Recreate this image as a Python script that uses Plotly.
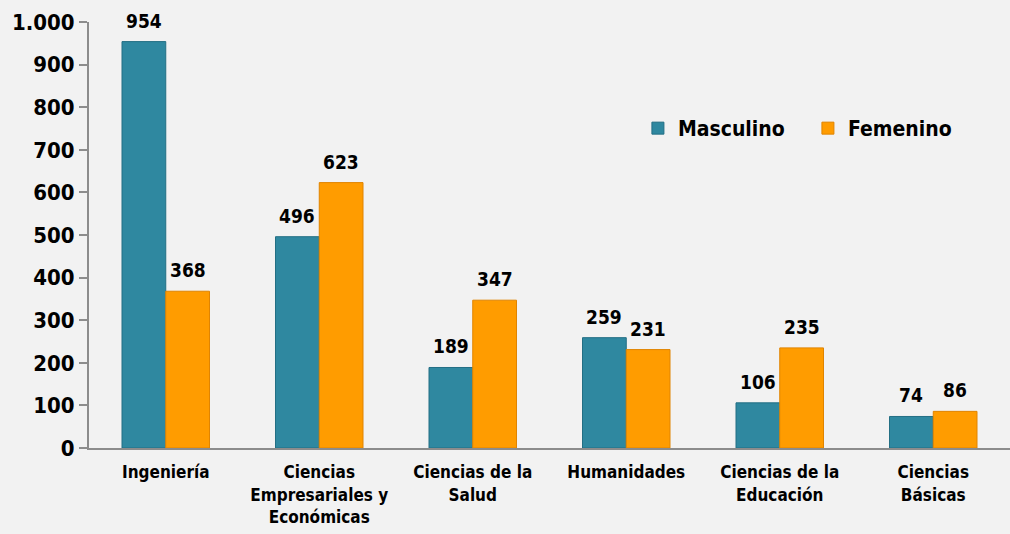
import plotly.graph_objects as go

categorias = ["Ingeniería", "Ciencias<br>Empresariales y<br>Económicas", "Ciencias de la<br>Salud",
              "Humanidades", "Ciencias de la<br>Educación", "Ciencias<br>Básicas"]
masculino = [954, 496, 189, 259, 106, 74]
femenino = [368, 623, 347, 231, 235, 86]
ticks_y = [0, 100, 200, 300, 400, 500, 600, 700, 800, 900, 1000]
ticks_txt = ["0", "100", "200", "300", "400", "500", "600", "700", "800", "900", "1.000"]

FUENTE = "Liberation Sans Narrow, DejaVu Sans Condensed, Liberation Sans, sans-serif"
AZUL = "#2f88a0"
NARANJA = "#ff9c00"

fig = go.Figure()
fig.add_trace(go.Bar(name="Masculino", x=categorias, y=masculino,
                     marker=dict(color=AZUL, line=dict(color="#236f84", width=1))))
fig.add_trace(go.Bar(name="Femenino", x=categorias, y=femenino,
                     marker=dict(color=NARANJA, line=dict(color="#e08400", width=1))))

# etiquetas de valores sobre cada barra
for i, cat in enumerate(categorias):
    for val, dx in ((masculino[i], -22), (femenino[i], 22)):
        fig.add_annotation(x=cat, y=val, text=str(val), showarrow=False,
                           xshift=dx, yshift=8, yanchor="bottom",
                           font=dict(family=FUENTE, size=19, color="black", weight="bold"))

fig.update_layout(
    width=1010, height=534,
    margin=dict(l=89, r=0, t=22, b=86, autoexpand=False),
    paper_bgcolor="#f2f2f2",
    plot_bgcolor="#f2f2f2",
    barmode="group",
    bargap=0.43,
    bargroupgap=0,
    font=dict(family=FUENTE, color="black"),
    legend=dict(orientation="h", x=0.596, y=0.75, xanchor="left", yanchor="middle",
                font=dict(family=FUENTE, size=21, color="black", weight="bold"),
                entrywidth=125, entrywidthmode="pixels",
                bgcolor="rgba(0,0,0,0)", itemwidth=30, traceorder="normal"),
    showlegend=True,
)
fig.update_yaxes(range=[0, 1000], tickvals=ticks_y, ticktext=ticks_txt,
                 showgrid=False, zeroline=False,
                 showline=True, linecolor="#8c8c8c", linewidth=2,
                 ticks="outside", ticklen=8, tickcolor="#8c8c8c", tickwidth=2,
                 tickfont=dict(family=FUENTE, size=22, color="black", weight="bold"))
fig.update_xaxes(tickvals=categorias, ticktext=categorias,
                 showgrid=False, showline=True, linecolor="#8c8c8c", linewidth=2,
                 ticks="", ticklabelstandoff=8,
                 tickfont=dict(family=FUENTE, size=17, color="black", weight="bold"))

fig.write_html("out.html", config={"displayModeBar": False},
               post_script="document.body.style.margin='0px';")
